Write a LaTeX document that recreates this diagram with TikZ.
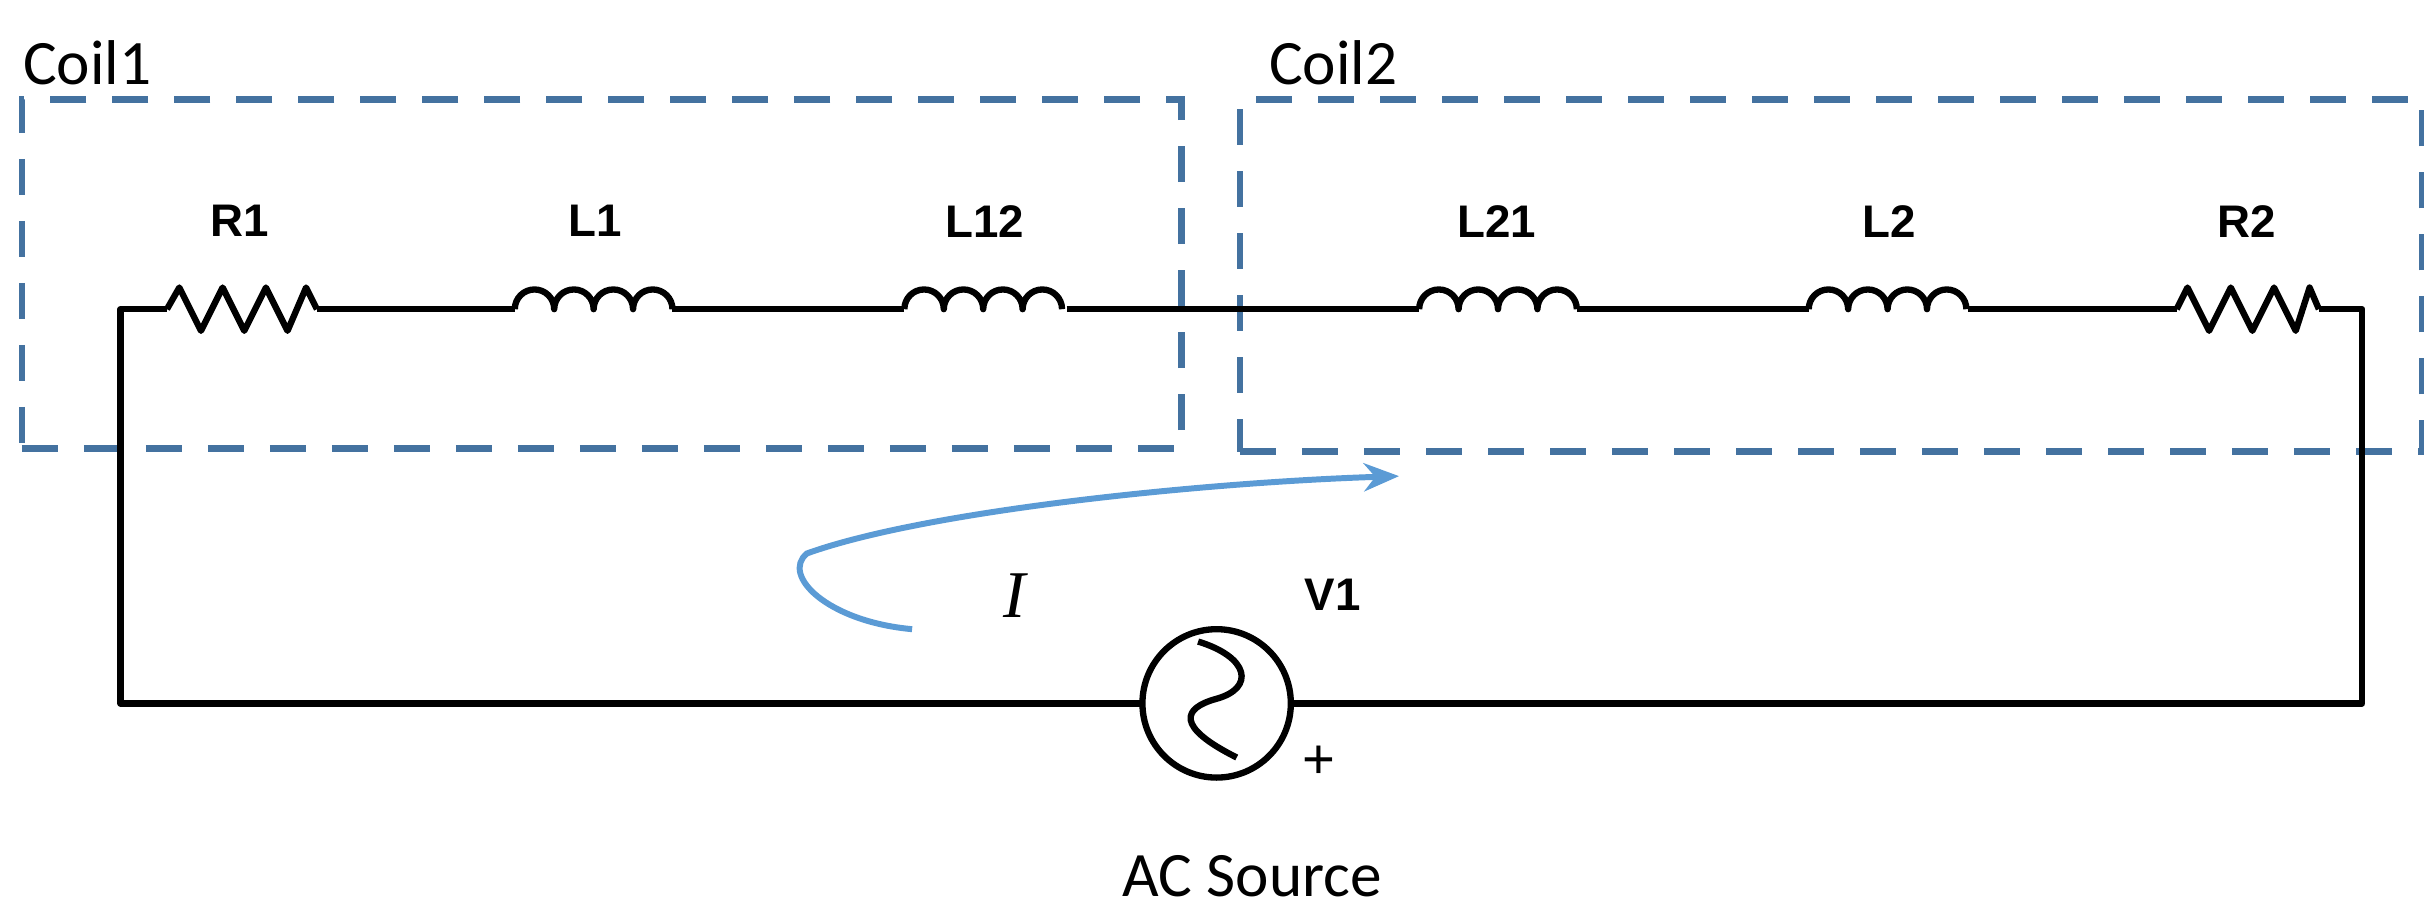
\documentclass[tikz,border=0pt]{standalone}
\usepackage{fontspec}
\setmainfont{Carlito}
\newfontfamily\lab{Liberation Sans}
\newfontfamily\ser{Liberation Serif}
\usetikzlibrary{arrows.meta}
\definecolor{boxc}{RGB}{68,114,160}
\definecolor{curc}{RGB}{91,155,213}
\begin{document}
\begin{tikzpicture}[x=0.1546mm,y=-0.1546mm,
  wire/.style={line width=1.8pt,black,line join=round},
  dbox/.style={draw=boxc,line width=1.9pt,dash pattern=on 3.6mm off 2.6mm},
  lbl/.style={font=\lab\bfseries\fontsize{13}{15}\selectfont},
  big/.style={font=\fontsize{18}{21}\selectfont}]
\useasboundingbox (0,0) rectangle (1568,589);
% dashed boxes
\node[dbox,minimum width=750*0.1546mm,minimum height=226*0.1546mm,anchor=north west] (box1) at (12,62) {};
\node[dbox,minimum width=765*0.1546mm,minimum height=228*0.1546mm,anchor=north west] (box2) at (800,62) {};
\node[big,anchor=south west,inner sep=2pt] (c1) at (10,60) {Coil1};
\node[big,anchor=south west,inner sep=2pt] (c2) at (816,60) {Coil2};
% wires
\draw[wire] (108,200) -- (78,200) -- (78,455) -- (739,455);
\draw[wire] (835,455) -- (1528,455) -- (1528,200) -- (1500,200);
\draw[wire] (205,200)--(333,200) (435,200)--(585,200) (690,200)--(918,200) (1020,200)--(1170,200) (1273,200)--(1408,200);
% resistors
\draw[wire] (108,200)--(116,186)--(130,214)--(144,186)--(158,214)--(172,186)--(186,214)--(198,186)--(205,200);
\draw[wire] (1408,200)--(1415,186)--(1429,214)--(1443,186)--(1457,214)--(1471,186)--(1485,214)--(1494,186)--(1500,200);
% inductors
\foreach \s in {333,585,918,1170}{
  \draw[wire] (\s,200) arc (180:360:12.75) arc (180:360:12.75) arc (180:360:12.75) arc (180:360:12.75);
}
\node[lbl] (r1) at (155,143) {R1};
\node[lbl] (l1) at (385,143) {L1};
\node[lbl] (l12) at (637,143) {L12};
\node[lbl] (l21) at (968,143) {L21};
\node[lbl] (l2) at (1222,143) {L2};
\node[lbl] (r2) at (1453,143) {R2};
% source
\node[draw,wire,circle,minimum size=96*0.1546mm,inner sep=0] (v1) at (787,455) {};
\draw[wire] (800,490) .. controls (760,470) and (765,458) .. (787,452) .. controls (812,445) and (808,425) .. (775,415);
\node[lbl] (v1l) at (862,385) {V1};
\node[font=\lab\fontsize{16}{18}\selectfont] (plus) at (853,493) {+};
\node[big] (ac) at (810,567) {AC Source};
% current
\coordinate (cs) at (590,407);
\coordinate (ce) at (905,308);
\draw[curc,line width=1.7pt,-{Stealth[length=10pt,width=8pt]}] (cs) .. controls (535,402) and (505,372) .. (522,358) .. controls (600,330) and (780,312) .. (ce);
\node[font=\ser\itshape\fontsize{19}{21}\selectfont] (I) at (656,385) {I};
\end{tikzpicture}
\end{document}
